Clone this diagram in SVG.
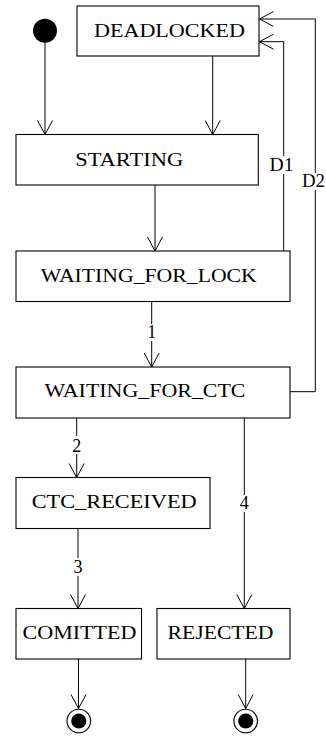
<svg xmlns="http://www.w3.org/2000/svg" width="326" height="740" viewBox="0 0 326 740">
<style>
.box{fill:#fff;stroke:#000;stroke-width:1.1}
.t{font-family:"Liberation Serif","DejaVu Serif",serif;font-size:18px;fill:#000;text-anchor:middle}
.c{fill:none;stroke:#000;stroke-width:1}
.bg{fill:#fff}
</style>
<defs>
<marker id="ah" markerUnits="userSpaceOnUse" markerWidth="20" markerHeight="20" viewBox="-16 -10 18 20" refX="0" refY="0" orient="auto">
<path d="M-14,-7.5 L0,0 L-14,7.5" fill="none" stroke="#000" stroke-width="1"/>
</marker>
</defs>
<rect width="326" height="740" fill="#fff"/>
<g id="connectors">
<path class="c" d="M45,42 V134.5" marker-end="url(#ah)"/>
<path class="c" d="M212.7,56 V134.5" marker-end="url(#ah)"/>
<path class="c" d="M155,185 V251" marker-end="url(#ah)"/>
<path class="c" d="M151.7,301.5 V367" marker-end="url(#ah)"/>
<path class="c" d="M76.7,418 V477.5" marker-end="url(#ah)"/>
<path class="c" d="M244.3,418 V608.5" marker-end="url(#ah)"/>
<path class="c" d="M78,528.5 V608.5" marker-end="url(#ah)"/>
<path class="c" d="M78.5,659 V708.5" marker-end="url(#ah)"/>
<path class="c" d="M245.7,659 V708.5" marker-end="url(#ah)"/>
<path class="c" d="M283.7,251 V41.7 H259.5" marker-end="url(#ah)"/>
<path class="c" d="M290,391.7 H315.3 V19 H259.5" marker-end="url(#ah)"/>
<rect class="bg" x="269" y="156" width="25" height="18"/>
<text class="t" x="281.5" y="170.5" textLength="24" lengthAdjust="spacingAndGlyphs">D1</text>
<rect class="bg" x="302" y="173" width="23" height="17"/>
<text class="t" x="313.5" y="187" textLength="23" lengthAdjust="spacingAndGlyphs">D2</text>
<rect class="bg" x="145" y="324" width="13" height="17"/>
<text class="t" x="151.7" y="338.3">1</text>
<rect class="bg" x="70" y="436" width="13" height="18"/>
<text class="t" x="76.7" y="451.5">2</text>
<rect class="bg" x="71" y="558" width="14" height="18"/>
<text class="t" x="78" y="573.3">3</text>
<rect class="bg" x="238" y="495" width="13" height="17"/>
<text class="t" x="244.3" y="509.3">4</text>
</g>
<g id="initial"><circle cx="45" cy="30.7" r="12" fill="#000"/></g>
<g id="deadlocked"><rect class="box" x="77" y="6" width="182" height="50"/><text class="t" x="169.5" y="37.3" textLength="151" lengthAdjust="spacingAndGlyphs">DEADLOCKED</text></g>
<g id="starting"><rect class="box" x="16" y="134.5" width="242.3" height="50.5"/><text class="t" x="129.2" y="165.7" textLength="108" lengthAdjust="spacingAndGlyphs">STARTING</text></g>
<g id="waiting_for_lock"><rect class="box" x="16" y="251" width="274" height="50.5"/><text class="t" x="148.8" y="281.7" textLength="216" lengthAdjust="spacingAndGlyphs">WAITING_FOR_LOCK</text></g>
<g id="waiting_for_ctc"><rect class="box" x="16" y="367" width="274" height="51"/><text class="t" x="145" y="397.3" textLength="201" lengthAdjust="spacingAndGlyphs">WAITING_FOR_CTC</text></g>
<g id="ctc_received"><rect class="box" x="16" y="477.5" width="194" height="51"/><text class="t" x="114.2" y="508.3" textLength="165" lengthAdjust="spacingAndGlyphs">CTC_RECEIVED</text></g>
<g id="comitted"><rect class="box" x="16" y="608.5" width="125.5" height="50.5"/><text class="t" x="79.5" y="639.3" textLength="114" lengthAdjust="spacingAndGlyphs">COMITTED</text></g>
<g id="rejected"><rect class="box" x="157" y="608.5" width="133" height="50.5"/><text class="t" x="220.5" y="639.3" textLength="106" lengthAdjust="spacingAndGlyphs">REJECTED</text></g>
<g id="final1"><circle cx="78.8" cy="721" r="11.8" fill="#fff" stroke="#000" stroke-width="1.1"/><circle cx="78.8" cy="721" r="7.6" fill="#000"/></g>
<g id="final2"><circle cx="245.7" cy="721" r="11.8" fill="#fff" stroke="#000" stroke-width="1.1"/><circle cx="245.7" cy="721" r="7.6" fill="#000"/></g>
</svg>
